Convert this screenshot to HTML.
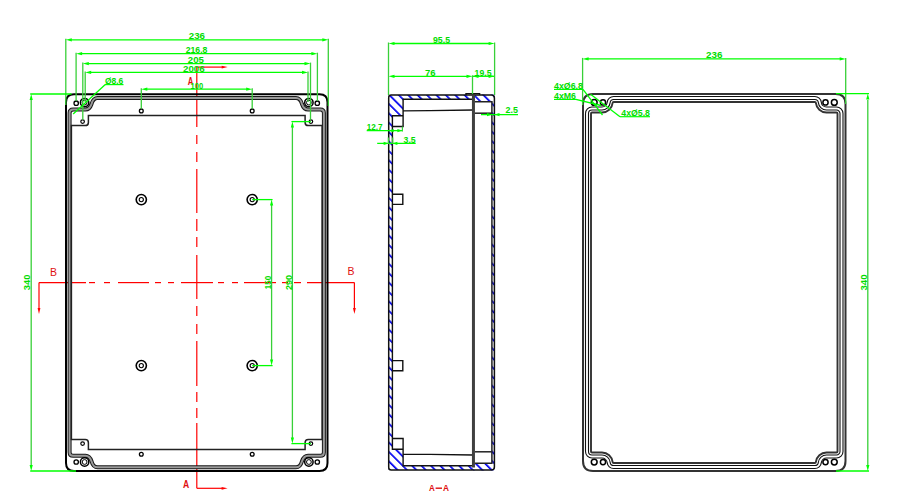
<!DOCTYPE html>
<html><head><meta charset="utf-8"><style>html,body{margin:0;padding:0;background:#fff;}svg{display:block;}</style></head>
<body><svg width="900" height="500" viewBox="0 0 900 500">
<defs><pattern id="hat" patternUnits="userSpaceOnUse" width="6.65" height="40" patternTransform="translate(302.5 0) rotate(-45)"><rect x="0" y="0" width="1.7" height="40" fill="#0000f0"/></pattern><clipPath id="hclip"><polygon points="388.7,95.1 473.2,95.1 473.2,99.3 403.1,99.3 403.1,115.8 392.4,115.8 392.4,283.1 388.7,283.1"/><polygon points="473.2,94.6 494.4,94.6 494.4,283.1 491.9,283.1 491.9,101.8 473.2,101.8"/><polygon transform="translate(0,565.0) scale(1,-1)" points="388.7,95.1 473.2,95.1 473.2,99.3 403.1,99.3 403.1,115.8 392.4,115.8 392.4,283.1 388.7,283.1"/><polygon transform="translate(0,565.0) scale(1,-1)" points="473.2,94.6 494.4,94.6 494.4,283.1 491.9,283.1 491.9,101.8 473.2,101.8"/></clipPath></defs>
<rect width="900" height="500" fill="#fff"/>
<line x1="196.80" y1="67.10" x2="196.80" y2="127.00" stroke="#ff0000" stroke-width="1.2" />
<line x1="196.80" y1="135.00" x2="196.80" y2="144.00" stroke="#ff0000" stroke-width="1.2" />
<line x1="196.80" y1="152.00" x2="196.80" y2="162.00" stroke="#ff0000" stroke-width="1.2" />
<line x1="196.80" y1="169.00" x2="196.80" y2="213.00" stroke="#ff0000" stroke-width="1.2" />
<line x1="196.80" y1="219.00" x2="196.80" y2="231.00" stroke="#ff0000" stroke-width="1.2" />
<line x1="196.80" y1="237.00" x2="196.80" y2="247.00" stroke="#ff0000" stroke-width="1.2" />
<line x1="196.80" y1="255.00" x2="196.80" y2="299.00" stroke="#ff0000" stroke-width="1.2" />
<line x1="196.80" y1="306.00" x2="196.80" y2="316.00" stroke="#ff0000" stroke-width="1.2" />
<line x1="196.80" y1="324.00" x2="196.80" y2="334.00" stroke="#ff0000" stroke-width="1.2" />
<line x1="196.80" y1="341.00" x2="196.80" y2="386.00" stroke="#ff0000" stroke-width="1.2" />
<line x1="196.80" y1="392.00" x2="196.80" y2="402.00" stroke="#ff0000" stroke-width="1.2" />
<line x1="196.80" y1="408.00" x2="196.80" y2="418.00" stroke="#ff0000" stroke-width="1.2" />
<line x1="196.80" y1="423.00" x2="196.80" y2="488.30" stroke="#ff0000" stroke-width="1.2" />
<line x1="39.00" y1="282.60" x2="86.00" y2="282.60" stroke="#ff0000" stroke-width="1.2" />
<line x1="89.00" y1="282.60" x2="95.00" y2="282.60" stroke="#ff0000" stroke-width="1.2" />
<line x1="104.00" y1="282.60" x2="110.00" y2="282.60" stroke="#ff0000" stroke-width="1.2" />
<line x1="118.00" y1="282.60" x2="149.00" y2="282.60" stroke="#ff0000" stroke-width="1.2" />
<line x1="155.00" y1="282.60" x2="161.00" y2="282.60" stroke="#ff0000" stroke-width="1.2" />
<line x1="168.00" y1="282.60" x2="174.00" y2="282.60" stroke="#ff0000" stroke-width="1.2" />
<line x1="181.00" y1="282.60" x2="213.00" y2="282.60" stroke="#ff0000" stroke-width="1.2" />
<line x1="218.00" y1="282.60" x2="224.00" y2="282.60" stroke="#ff0000" stroke-width="1.2" />
<line x1="232.00" y1="282.60" x2="238.00" y2="282.60" stroke="#ff0000" stroke-width="1.2" />
<line x1="244.00" y1="282.60" x2="276.00" y2="282.60" stroke="#ff0000" stroke-width="1.2" />
<line x1="282.00" y1="282.60" x2="288.00" y2="282.60" stroke="#ff0000" stroke-width="1.2" />
<line x1="294.00" y1="282.60" x2="301.00" y2="282.60" stroke="#ff0000" stroke-width="1.2" />
<line x1="307.00" y1="282.60" x2="354.40" y2="282.60" stroke="#ff0000" stroke-width="1.2" />
<line x1="196.80" y1="67.10" x2="222.00" y2="67.10" stroke="#ff0000" stroke-width="1.2" />
<polygon points="227.70,67.10 221.70,68.50 221.70,65.70" fill="#ff0000"/>
<line x1="196.80" y1="488.30" x2="222.00" y2="488.30" stroke="#ff0000" stroke-width="1.2" />
<polygon points="227.60,488.30 221.60,489.70 221.60,486.90" fill="#ff0000"/>
<line x1="39.00" y1="282.60" x2="39.00" y2="308.00" stroke="#ff0000" stroke-width="1.2" />
<polygon points="39.00,314.00 37.60,308.00 40.40,308.00" fill="#ff0000"/>
<line x1="354.40" y1="282.60" x2="354.40" y2="308.00" stroke="#ff0000" stroke-width="1.2" />
<polygon points="354.40,314.00 353.00,308.00 355.80,308.00" fill="#ff0000"/>
<text x="187.80" y="84.60" font-family='"Liberation Sans", sans-serif' font-size="11" fill="#e01010" font-weight="bold" textLength="5.60" lengthAdjust="spacingAndGlyphs">A</text>
<text x="183.10" y="488.30" font-family='"Liberation Sans", sans-serif' font-size="10" fill="#e01010" font-weight="bold" textLength="6.20" lengthAdjust="spacingAndGlyphs">A</text>
<text x="50.00" y="275.60" font-family='"Liberation Sans", sans-serif' font-size="11.2" fill="#e01010" font-weight="normal" textLength="7.00" lengthAdjust="spacingAndGlyphs">B</text>
<text x="347.40" y="275.40" font-family='"Liberation Sans", sans-serif' font-size="11.2" fill="#e01010" font-weight="normal" textLength="7.00" lengthAdjust="spacingAndGlyphs">B</text>
<path d="M66.00 282.60 L66.00 102.30 Q66.00 94.30 74.00 94.30 L196.75 94.30 L319.50 94.30 Q327.50 94.30 327.50 102.30 L327.50 282.60 L327.50 462.90 Q327.50 470.90 319.50 470.90 L196.75 470.90 L74.00 470.90 Q66.00 470.90 66.00 462.90 L66.00 282.60 Z" stroke="#000" stroke-width="2" fill="none"/>
<path d="M69.60 282.60 L69.60 113.00 Q69.60 109.50 73.10 109.50 L85.50 109.50 C89.50 109.50 90.50 107.00 91.50 104.00 C92.50 100.50 93.50 97.90 97.50 97.90 L196.75 97.90 L296.00 97.90 C300.00 97.90 301.00 100.50 302.00 104.00 C303.00 107.00 304.00 109.50 308.00 109.50 L320.40 109.50 Q323.90 109.50 323.90 113.00 L323.90 282.60 L323.90 452.20 Q323.90 455.70 320.40 455.70 L308.00 455.70 C304.00 455.70 303.00 458.20 302.00 461.20 C301.00 464.70 300.00 467.30 296.00 467.30 L196.75 467.30 L97.50 467.30 C93.50 467.30 92.50 464.70 91.50 461.20 C90.50 458.20 89.50 455.70 85.50 455.70 L73.10 455.70 Q69.60 455.70 69.60 452.20 L69.60 282.60 Z" stroke="#1a1a1a" stroke-width="4.0" fill="none"/>
<path d="M69.60 282.60 L69.60 113.00 Q69.60 109.50 73.10 109.50 L85.50 109.50 C89.50 109.50 90.50 107.00 91.50 104.00 C92.50 100.50 93.50 97.90 97.50 97.90 L196.75 97.90 L296.00 97.90 C300.00 97.90 301.00 100.50 302.00 104.00 C303.00 107.00 304.00 109.50 308.00 109.50 L320.40 109.50 Q323.90 109.50 323.90 113.00 L323.90 282.60 L323.90 452.20 Q323.90 455.70 320.40 455.70 L308.00 455.70 C304.00 455.70 303.00 458.20 302.00 461.20 C301.00 464.70 300.00 467.30 296.00 467.30 L196.75 467.30 L97.50 467.30 C93.50 467.30 92.50 464.70 91.50 461.20 C90.50 458.20 89.50 455.70 85.50 455.70 L73.10 455.70 Q69.60 455.70 69.60 452.20 L69.60 282.60 Z" stroke="#9a9a9a" stroke-width="2.0" fill="none"/>
<path d="M71.40 282.60 L71.40 125.60 L85.20 125.60 Q88.40 125.60 88.40 122.40 L88.40 115.60 L196.75 115.60 L305.10 115.60 L305.10 122.40 Q305.10 125.60 308.30 125.60 L322.10 125.60 L322.10 282.60 L322.10 439.60 L308.30 439.60 Q305.10 439.60 305.10 442.80 L305.10 449.60 L196.75 449.60 L88.40 449.60 L88.40 442.80 Q88.40 439.60 85.20 439.60 L71.40 439.60 L71.40 282.60 Z" stroke="#222" stroke-width="1.5" fill="none"/>
<circle cx="82.60" cy="121.60" r="1.80" stroke="#000" stroke-width="1.2" fill="none"/>
<circle cx="82.60" cy="443.60" r="1.80" stroke="#000" stroke-width="1.2" fill="none"/>
<circle cx="310.90" cy="121.60" r="1.80" stroke="#000" stroke-width="1.2" fill="none"/>
<circle cx="310.90" cy="443.60" r="1.80" stroke="#000" stroke-width="1.2" fill="none"/>
<circle cx="141.30" cy="110.90" r="1.90" stroke="#000" stroke-width="1.3" fill="none"/>
<circle cx="141.30" cy="454.30" r="1.90" stroke="#000" stroke-width="1.3" fill="none"/>
<circle cx="252.20" cy="110.90" r="1.90" stroke="#000" stroke-width="1.3" fill="none"/>
<circle cx="252.20" cy="454.30" r="1.90" stroke="#000" stroke-width="1.3" fill="none"/>
<circle cx="141.30" cy="199.60" r="5.10" stroke="#000" stroke-width="1.6" fill="none"/>
<circle cx="141.30" cy="365.60" r="5.10" stroke="#000" stroke-width="1.6" fill="none"/>
<circle cx="252.20" cy="199.60" r="5.10" stroke="#000" stroke-width="1.6" fill="none"/>
<circle cx="252.20" cy="365.60" r="5.10" stroke="#000" stroke-width="1.6" fill="none"/>
<circle cx="141.30" cy="199.60" r="2.10" stroke="#000" stroke-width="1.1" fill="none"/>
<circle cx="141.30" cy="365.60" r="2.10" stroke="#000" stroke-width="1.1" fill="none"/>
<circle cx="252.20" cy="199.60" r="2.10" stroke="#000" stroke-width="1.1" fill="none"/>
<circle cx="252.20" cy="365.60" r="2.10" stroke="#000" stroke-width="1.1" fill="none"/>
<circle cx="76.20" cy="103.20" r="2.20" stroke="#000" stroke-width="1.3" fill="none"/>
<circle cx="317.30" cy="103.20" r="2.20" stroke="#000" stroke-width="1.3" fill="none"/>
<circle cx="84.60" cy="102.60" r="4.20" stroke="#000" stroke-width="1.5" fill="none"/>
<circle cx="308.90" cy="102.60" r="4.20" stroke="#000" stroke-width="1.5" fill="none"/>
<circle cx="84.60" cy="102.60" r="2.40" stroke="#000" stroke-width="1.0" fill="none"/>
<circle cx="308.90" cy="102.60" r="2.40" stroke="#000" stroke-width="1.0" fill="none"/>
<circle cx="76.20" cy="462.00" r="2.20" stroke="#000" stroke-width="1.3" fill="none"/>
<circle cx="317.30" cy="462.00" r="2.20" stroke="#000" stroke-width="1.3" fill="none"/>
<circle cx="84.60" cy="462.00" r="4.20" stroke="#000" stroke-width="1.5" fill="none"/>
<circle cx="308.90" cy="462.00" r="4.20" stroke="#000" stroke-width="1.5" fill="none"/>
<circle cx="84.60" cy="462.00" r="2.40" stroke="#000" stroke-width="1.0" fill="none"/>
<circle cx="308.90" cy="462.00" r="2.40" stroke="#000" stroke-width="1.0" fill="none"/>
<line x1="69.80" y1="39.80" x2="324.30" y2="39.80" stroke="#00ff00" stroke-width="1.3" />
<polygon points="65.80,39.80 71.80,38.20 71.80,41.40" fill="#00ff00"/>
<polygon points="328.30,39.80 322.30,41.40 322.30,38.20" fill="#00ff00"/>
<text x="188.80" y="39.20" font-family='"Liberation Sans", sans-serif' font-size="8.6" fill="#00dc00" font-weight="bold" textLength="16.20" lengthAdjust="spacingAndGlyphs">236</text>
<line x1="80.10" y1="53.70" x2="313.40" y2="53.70" stroke="#00ff00" stroke-width="1.3" />
<polygon points="76.10,53.70 82.10,52.10 82.10,55.30" fill="#00ff00"/>
<polygon points="317.40,53.70 311.40,55.30 311.40,52.10" fill="#00ff00"/>
<text x="185.70" y="53.10" font-family='"Liberation Sans", sans-serif' font-size="8.6" fill="#00dc00" font-weight="bold" textLength="21.70" lengthAdjust="spacingAndGlyphs">216.8</text>
<line x1="86.80" y1="63.60" x2="306.50" y2="63.60" stroke="#00ff00" stroke-width="1.3" />
<polygon points="82.80,63.60 88.80,62.00 88.80,65.20" fill="#00ff00"/>
<polygon points="310.50,63.60 304.50,65.20 304.50,62.00" fill="#00ff00"/>
<text x="187.80" y="63.00" font-family='"Liberation Sans", sans-serif' font-size="8.6" fill="#00dc00" font-weight="bold" textLength="16.10" lengthAdjust="spacingAndGlyphs">205</text>
<line x1="89.20" y1="72.40" x2="304.00" y2="72.40" stroke="#00ff00" stroke-width="1.3" />
<polygon points="85.20,72.40 91.20,70.80 91.20,74.00" fill="#00ff00"/>
<polygon points="308.00,72.40 302.00,74.00 302.00,70.80" fill="#00ff00"/>
<text x="183.00" y="71.80" font-family='"Liberation Sans", sans-serif' font-size="8.6" fill="#00dc00" font-weight="bold" textLength="21.60" lengthAdjust="spacingAndGlyphs">2006</text>
<line x1="145.30" y1="89.20" x2="248.20" y2="89.20" stroke="#00ff00" stroke-width="1.3" />
<polygon points="141.30,89.20 147.30,87.60 147.30,90.80" fill="#00ff00"/>
<polygon points="252.20,89.20 246.20,90.80 246.20,87.60" fill="#00ff00"/>
<text x="190.60" y="88.60" font-family='"Liberation Sans", sans-serif' font-size="8.6" fill="#00dc00" font-weight="bold" textLength="12.60" lengthAdjust="spacingAndGlyphs">100</text>
<line x1="65.80" y1="38.80" x2="65.80" y2="105.00" stroke="#38d038" stroke-width="1.3" />
<line x1="328.30" y1="38.80" x2="328.30" y2="106.00" stroke="#38d038" stroke-width="1.3" />
<line x1="76.10" y1="52.70" x2="76.10" y2="101.00" stroke="#38d038" stroke-width="1.3" />
<line x1="317.40" y1="52.70" x2="317.40" y2="101.00" stroke="#38d038" stroke-width="1.3" />
<line x1="82.80" y1="62.60" x2="82.80" y2="119.80" stroke="#38d038" stroke-width="1.3" />
<line x1="310.50" y1="62.60" x2="310.50" y2="119.80" stroke="#38d038" stroke-width="1.3" />
<line x1="85.20" y1="71.40" x2="85.20" y2="102.00" stroke="#38d038" stroke-width="1.3" />
<line x1="308.00" y1="71.40" x2="308.00" y2="102.00" stroke="#38d038" stroke-width="1.3" />
<line x1="141.30" y1="88.20" x2="141.30" y2="108.80" stroke="#38d038" stroke-width="1.3" />
<line x1="252.20" y1="88.20" x2="252.20" y2="108.80" stroke="#38d038" stroke-width="1.3" />
<text x="105.00" y="84.10" font-family='"Liberation Sans", sans-serif' font-size="8.6" fill="#00dc00" font-weight="bold" textLength="18.30" lengthAdjust="spacingAndGlyphs">Ø8.6</text>
<line x1="105.00" y1="84.60" x2="123.50" y2="84.60" stroke="#00ff00" stroke-width="1.2" />
<line x1="105.30" y1="84.60" x2="73.20" y2="114.00" stroke="#00ff00" stroke-width="1.3" />
<line x1="31.20" y1="100.00" x2="31.20" y2="465.00" stroke="#38d038" stroke-width="1.3" />
<polygon points="31.20,94.00 32.80,100.00 29.60,100.00" fill="#00ff00"/>
<polygon points="31.20,471.00 29.60,465.00 32.80,465.00" fill="#00ff00"/>
<line x1="30.20" y1="94.00" x2="71.50" y2="94.00" stroke="#00ff00" stroke-width="1.3" />
<line x1="30.20" y1="471.00" x2="76.00" y2="471.00" stroke="#00ff00" stroke-width="1.3" />
<text x="30.00" y="290.20" transform="rotate(-90 30.00 290.20)" font-family='"Liberation Sans", sans-serif' font-size="8.6" fill="#00dc00" font-weight="bold" textLength="15.80" lengthAdjust="spacingAndGlyphs">340</text>
<line x1="271.60" y1="205.00" x2="271.60" y2="360.00" stroke="#38d038" stroke-width="1.3" />
<polygon points="271.60,199.60 273.20,205.60 270.00,205.60" fill="#00ff00"/>
<polygon points="271.60,365.60 270.00,359.60 273.20,359.60" fill="#00ff00"/>
<line x1="252.20" y1="199.60" x2="272.60" y2="199.60" stroke="#00ff00" stroke-width="1.3" />
<line x1="252.20" y1="365.60" x2="272.60" y2="365.60" stroke="#00ff00" stroke-width="1.3" />
<text x="270.90" y="289.20" transform="rotate(-90 270.90 289.20)" font-family='"Liberation Sans", sans-serif' font-size="8.6" fill="#00dc00" font-weight="bold" textLength="13.40" lengthAdjust="spacingAndGlyphs">150</text>
<line x1="292.40" y1="127.00" x2="292.40" y2="438.00" stroke="#38d038" stroke-width="1.3" />
<polygon points="292.40,121.60 294.00,127.60 290.80,127.60" fill="#00ff00"/>
<polygon points="292.40,443.60 290.80,437.60 294.00,437.60" fill="#00ff00"/>
<line x1="291.40" y1="121.60" x2="310.90" y2="121.60" stroke="#00ff00" stroke-width="1.3" />
<line x1="291.40" y1="443.60" x2="310.90" y2="443.60" stroke="#00ff00" stroke-width="1.3" />
<text x="291.90" y="290.00" transform="rotate(-90 291.90 290.00)" font-family='"Liberation Sans", sans-serif' font-size="8.6" fill="#00dc00" font-weight="bold" textLength="15.10" lengthAdjust="spacingAndGlyphs">290</text>
<rect x="385" y="90" width="115" height="385" fill="url(#hat)" clip-path="url(#hclip)"/>
<path d="M388.7 97.6 Q388.7 95.1 391.2 95.1 L491.4 94.89999999999999 Q494.4 94.89999999999999 494.4 97.89999999999999 L494.4 467.1 Q494.4 470.1 491.4 470.1 L391.2 469.9 Q388.7 469.9 388.7 467.4 Z" stroke="#111" stroke-width="1.5" fill="none" />
<path d="M403.1 115.8 L392.4 115.8 L392.4 449.2 L403.1 449.2" stroke="#111" stroke-width="1.4" fill="none" />
<path d="M392.4 126.5 L403.1 126.5 L403.1 99.3 L473.2 99.3 M403.1 110.89999999999999 L430 110.6 L473.2 110.0" stroke="#111" stroke-width="1.4" fill="none" />
<path d="M392.4 194.2 L402.8 194.2 L402.8 204.4 L392.4 204.4" stroke="#111" stroke-width="1.4" fill="none" />
<path d="M474.8 113.2 L491.9 113.2" stroke="#222" stroke-width="1.5" fill="none" />
<path d="M392.4 438.5 L403.1 438.5 L403.1 465.7 L473.2 465.7 M403.1 454.1 L430 454.4 L473.2 455.0" stroke="#111" stroke-width="1.4" fill="none" />
<path d="M392.4 370.8 L402.8 370.8 L402.8 360.6 L392.4 360.6" stroke="#111" stroke-width="1.4" fill="none" />
<path d="M474.8 451.8 L491.9 451.8" stroke="#222" stroke-width="1.5" fill="none" />
<path d="M474.8 101.8 L491.9 101.8 L491.9 463.2 L474.8 463.2" stroke="#222" stroke-width="1.5" fill="none" />
<path d="M473.45 93.6 L473.45 467.5" stroke="#404040" stroke-width="3" fill="none" />
<path d="M466 95.1 L466 93.6 L479.6 93.6 L479.6 94.9" stroke="#111" stroke-width="1.4" fill="none" />
<line x1="392.50" y1="43.50" x2="490.60" y2="43.50" stroke="#00ff00" stroke-width="1.3" />
<polygon points="388.50,43.50 394.50,41.90 394.50,45.10" fill="#00ff00"/>
<polygon points="494.60,43.50 488.60,45.10 488.60,41.90" fill="#00ff00"/>
<text x="433.00" y="42.90" font-family='"Liberation Sans", sans-serif' font-size="8.6" fill="#00dc00" font-weight="bold" textLength="17.00" lengthAdjust="spacingAndGlyphs">95.5</text>
<line x1="392.50" y1="76.30" x2="468.50" y2="76.30" stroke="#00ff00" stroke-width="1.3" />
<polygon points="388.50,76.30 394.50,74.70 394.50,77.90" fill="#00ff00"/>
<polygon points="472.50,76.30 466.50,77.90 466.50,74.70" fill="#00ff00"/>
<text x="425.00" y="75.70" font-family='"Liberation Sans", sans-serif' font-size="8.6" fill="#00dc00" font-weight="bold" textLength="10.60" lengthAdjust="spacingAndGlyphs">76</text>
<line x1="472.50" y1="76.30" x2="494.60" y2="76.30" stroke="#00ff00" stroke-width="1.3" />
<polygon points="494.60,76.30 488.60,77.90 488.60,74.70" fill="#00ff00"/>
<polygon points="472.50,76.30 478.50,74.70 478.50,77.90" fill="#00ff00"/>
<text x="474.60" y="75.70" font-family='"Liberation Sans", sans-serif' font-size="8.6" fill="#00dc00" font-weight="bold" textLength="16.90" lengthAdjust="spacingAndGlyphs">19.5</text>
<line x1="388.50" y1="42.50" x2="388.50" y2="95.00" stroke="#38d038" stroke-width="1.3" />
<line x1="494.60" y1="42.50" x2="494.60" y2="95.00" stroke="#38d038" stroke-width="1.3" />
<line x1="472.50" y1="75.30" x2="472.50" y2="94.00" stroke="#38d038" stroke-width="1.3" />
<line x1="481.00" y1="114.60" x2="518.00" y2="114.60" stroke="#00ff00" stroke-width="1.3" />
<polygon points="492.00,114.60 487.00,116.20 487.00,113.00" fill="#00ff00"/>
<polygon points="494.50,114.60 499.50,113.00 499.50,116.20" fill="#00ff00"/>
<text x="505.60" y="113.40" font-family='"Liberation Sans", sans-serif' font-size="8.6" fill="#00dc00" font-weight="bold" textLength="12.40" lengthAdjust="spacingAndGlyphs">2.5</text>
<line x1="366.70" y1="130.60" x2="402.40" y2="130.60" stroke="#00ff00" stroke-width="1.3" />
<polygon points="402.40,130.60 397.40,132.20 397.40,129.00" fill="#00ff00"/>
<polygon points="388.70,130.60 393.70,129.00 393.70,132.20" fill="#00ff00"/>
<line x1="402.40" y1="126.50" x2="402.40" y2="131.60" stroke="#38d038" stroke-width="1.2" />
<text x="366.70" y="129.80" font-family='"Liberation Sans", sans-serif' font-size="8.6" fill="#00dc00" font-weight="bold" textLength="15.90" lengthAdjust="spacingAndGlyphs">12.7</text>
<line x1="377.20" y1="143.40" x2="415.70" y2="143.40" stroke="#00ff00" stroke-width="1.3" />
<polygon points="388.60,143.40 383.60,145.00 383.60,141.80" fill="#00ff00"/>
<polygon points="392.40,143.40 397.40,141.80 397.40,145.00" fill="#00ff00"/>
<line x1="388.40" y1="137.50" x2="388.40" y2="144.00" stroke="#38d038" stroke-width="1.2" />
<line x1="392.70" y1="137.50" x2="392.70" y2="144.00" stroke="#38d038" stroke-width="1.2" />
<text x="403.60" y="142.60" font-family='"Liberation Sans", sans-serif' font-size="8.6" fill="#00dc00" font-weight="bold" textLength="12.10" lengthAdjust="spacingAndGlyphs">3.5</text>
<text x="428.90" y="491.30" font-family='"Liberation Sans", sans-serif' font-size="9.4" fill="#e01010" font-weight="bold" textLength="5.80" lengthAdjust="spacingAndGlyphs">A</text>
<text x="442.90" y="491.30" font-family='"Liberation Sans", sans-serif' font-size="9.4" fill="#e01010" font-weight="bold" textLength="6.00" lengthAdjust="spacingAndGlyphs">A</text>
<rect x="435.6" y="487.5" width="6.4" height="1.4" fill="#e01010"/>
<path d="M583.00 282.50 L583.00 104.00 Q583.00 94.00 593.00 94.00 L714.25 94.00 L835.50 94.00 Q845.50 94.00 845.50 104.00 L845.50 282.50 L845.50 461.00 Q845.50 471.00 835.50 471.00 L714.25 471.00 L593.00 471.00 Q583.00 471.00 583.00 461.00 L583.00 282.50 Z" stroke="#333" stroke-width="2" fill="none"/>
<path d="M585.50 282.50 L585.50 113.50 A6.50 6.50 0 0 1 592.00 107.00 L602.00 107.00 A5.20 5.20 0 0 0 607.17 102.33 A6.50 6.50 0 0 1 613.64 96.50 L714.25 96.50 L814.86 96.50 A6.50 6.50 0 0 1 821.33 102.33 A5.20 5.20 0 0 0 826.50 107.00 L836.50 107.00 A6.50 6.50 0 0 1 843.00 113.50 L843.00 282.50 L843.00 451.50 A6.50 6.50 0 0 1 836.50 458.00 L826.50 458.00 A5.20 5.20 0 0 0 821.33 462.67 A6.50 6.50 0 0 1 814.86 468.50 L714.25 468.50 L613.64 468.50 A6.50 6.50 0 0 1 607.17 462.67 A5.20 5.20 0 0 0 602.00 458.00 L592.00 458.00 A6.50 6.50 0 0 1 585.50 451.50 L585.50 282.50 Z" stroke="#111" stroke-width="1.1" fill="none"/>
<path d="M588.50 282.50 L588.50 113.50 A3.50 3.50 0 0 1 592.00 110.00 L602.00 110.00 A8.20 8.20 0 0 0 610.16 102.64 A3.50 3.50 0 0 1 613.64 99.50 L714.25 99.50 L814.86 99.50 A3.50 3.50 0 0 1 818.34 102.64 A8.20 8.20 0 0 0 826.50 110.00 L836.50 110.00 A3.50 3.50 0 0 1 840.00 113.50 L840.00 282.50 L840.00 451.50 A3.50 3.50 0 0 1 836.50 455.00 L826.50 455.00 A8.20 8.20 0 0 0 818.34 462.36 A3.50 3.50 0 0 1 814.86 465.50 L714.25 465.50 L613.64 465.50 A3.50 3.50 0 0 1 610.16 462.36 A8.20 8.20 0 0 0 602.00 455.00 L592.00 455.00 A3.50 3.50 0 0 1 588.50 451.50 L588.50 282.50 Z" stroke="#111" stroke-width="1.1" fill="none"/>
<path d="M591.00 282.50 L591.00 113.50 A1.00 1.00 0 0 1 592.00 112.50 L602.00 112.50 A10.70 10.70 0 0 0 612.64 102.90 A1.00 1.00 0 0 1 613.64 102.00 L714.25 102.00 L814.86 102.00 A1.00 1.00 0 0 1 815.86 102.90 A10.70 10.70 0 0 0 826.50 112.50 L836.50 112.50 A1.00 1.00 0 0 1 837.50 113.50 L837.50 282.50 L837.50 451.50 A1.00 1.00 0 0 1 836.50 452.50 L826.50 452.50 A10.70 10.70 0 0 0 815.86 462.10 A1.00 1.00 0 0 1 814.86 463.00 L714.25 463.00 L613.64 463.00 A1.00 1.00 0 0 1 612.64 462.10 A10.70 10.70 0 0 0 602.00 452.50 L592.00 452.50 A1.00 1.00 0 0 1 591.00 451.50 L591.00 282.50 Z" stroke="#333" stroke-width="1.9" fill="none"/>
<circle cx="594.20" cy="102.40" r="2.90" stroke="#000" stroke-width="1.5" fill="none"/>
<circle cx="834.30" cy="102.40" r="2.90" stroke="#000" stroke-width="1.5" fill="none"/>
<circle cx="603.00" cy="102.40" r="2.60" stroke="#000" stroke-width="1.5" fill="none"/>
<circle cx="825.50" cy="102.40" r="2.60" stroke="#000" stroke-width="1.5" fill="none"/>
<circle cx="594.20" cy="462.10" r="2.90" stroke="#000" stroke-width="1.5" fill="none"/>
<circle cx="834.30" cy="462.10" r="2.90" stroke="#000" stroke-width="1.5" fill="none"/>
<circle cx="603.00" cy="462.10" r="2.60" stroke="#000" stroke-width="1.5" fill="none"/>
<circle cx="825.50" cy="462.10" r="2.60" stroke="#000" stroke-width="1.5" fill="none"/>
<line x1="586.60" y1="58.90" x2="841.70" y2="58.90" stroke="#00ff00" stroke-width="1.3" />
<polygon points="582.60,58.90 588.60,57.30 588.60,60.50" fill="#00ff00"/>
<polygon points="845.70,58.90 839.70,60.50 839.70,57.30" fill="#00ff00"/>
<text x="706.10" y="58.30" font-family='"Liberation Sans", sans-serif' font-size="8.6" fill="#00dc00" font-weight="bold" textLength="16.40" lengthAdjust="spacingAndGlyphs">236</text>
<line x1="582.60" y1="57.90" x2="582.60" y2="105.00" stroke="#38d038" stroke-width="1.3" />
<line x1="845.70" y1="57.90" x2="845.70" y2="104.00" stroke="#38d038" stroke-width="1.3" />
<line x1="867.80" y1="100.00" x2="867.80" y2="465.00" stroke="#38d038" stroke-width="1.3" />
<polygon points="867.80,93.60 869.40,99.60 866.20,99.60" fill="#00ff00"/>
<polygon points="867.80,471.00 866.20,465.00 869.40,465.00" fill="#00ff00"/>
<line x1="836.00" y1="93.60" x2="869.00" y2="93.60" stroke="#00ff00" stroke-width="1.3" />
<line x1="836.00" y1="471.00" x2="869.00" y2="471.00" stroke="#00ff00" stroke-width="1.3" />
<text x="867.30" y="290.60" transform="rotate(-90 867.30 290.60)" font-family='"Liberation Sans", sans-serif' font-size="8.6" fill="#00dc00" font-weight="bold" textLength="16.10" lengthAdjust="spacingAndGlyphs">340</text>
<text x="554.00" y="89.00" font-family='"Liberation Sans", sans-serif' font-size="8.6" fill="#00dc00" font-weight="bold" textLength="29.00" lengthAdjust="spacingAndGlyphs">4xØ6.8</text>
<line x1="554.00" y1="89.40" x2="583.00" y2="89.40" stroke="#00ff00" stroke-width="1.2" />
<line x1="583.00" y1="89.40" x2="602.50" y2="115.00" stroke="#00ff00" stroke-width="1.3" />
<text x="554.00" y="99.00" font-family='"Liberation Sans", sans-serif' font-size="8.6" fill="#00dc00" font-weight="bold" textLength="22.00" lengthAdjust="spacingAndGlyphs">4xM6</text>
<line x1="554.00" y1="99.40" x2="576.00" y2="99.40" stroke="#00ff00" stroke-width="1.2" />
<line x1="576.00" y1="99.40" x2="601.00" y2="105.50" stroke="#00ff00" stroke-width="1.3" />
<text x="621.30" y="116.00" font-family='"Liberation Sans", sans-serif' font-size="8.6" fill="#00dc00" font-weight="bold" textLength="28.70" lengthAdjust="spacingAndGlyphs">4xØ5.8</text>
<line x1="620.00" y1="116.70" x2="650.00" y2="116.70" stroke="#00ff00" stroke-width="1.2" />
<line x1="620.00" y1="116.70" x2="590.60" y2="94.30" stroke="#00ff00" stroke-width="1.3" />
</svg></body></html>
